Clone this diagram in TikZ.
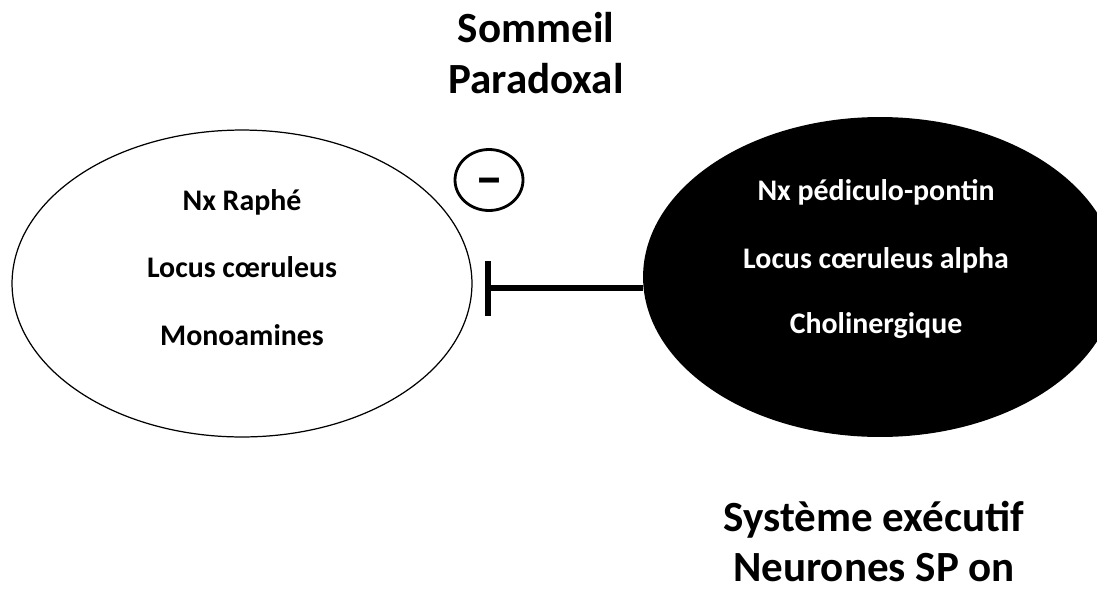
\documentclass[tikz,border=0pt]{standalone}
\usepackage{fontspec}
\setmainfont{Carlito}
\usetikzlibrary{shapes.geometric}
\usetikzlibrary{arrows.meta}

\begin{document}
\begin{tikzpicture}[x=0.02cm, y=-0.02cm,
    titre/.style={font=\fontsize{24.5}{29}\selectfont\bfseries, anchor=base, inner sep=0pt},
    ligne/.style={font=\fontsize{17}{20}\selectfont\bfseries, anchor=base, inner sep=0pt}]
    \useasboundingbox (0,0) rectangle (1097,592);
    \clip (0,0) rectangle (1097,592);

    \node [titre] (sp1) at (536,42) {Sommeil};
    \node [titre] (sp2) at (536,93) {Paradoxal};

    \node [draw, ellipse, line width=0.7pt, minimum width=9.2cm, minimum height=6.14cm] (raphe) at (242,283.5) {};
    \node [fill, ellipse, minimum width=9.48cm, minimum height=6.4cm] (ppt) at (880,277) {};

    \node [ligne] (r1) at (242,210) {Nx Raphé};
    \node [ligne] (r2) at (242,277) {Locus cœruleus};
    \node [ligne] (r3) at (242,345) {Monoamines};

    \node [ligne, white] (p1) at (876,200) {Nx pédiculo-pontin};
    \node [ligne, white] (p2) at (876,268) {Locus cœruleus alpha};
    \node [ligne, white] (p3) at (876,333) {Cholinergique};

    % signe moins
    \node [draw, ellipse, line width=1.6pt, minimum width=1.36cm, minimum height=1.22cm, inner sep=0pt] (moins) at (489,180) {};
    \node [font=\fontsize{32}{32}\selectfont\bfseries, anchor=base, inner sep=0pt] (tiret) at ([yshift=-0.32cm]moins.center) {–};

    \coordinate (stop) at (485,288);
    \draw [line width=3.4pt, -{Bar[width=1.1cm]}] (ppt.west |- stop) -- (stop);

    \node [titre] (se1) at (874,531) {Système exécutif};
    \node [titre] (se2) at (874,581) {Neurones SP on};
\end{tikzpicture}
\end{document}
